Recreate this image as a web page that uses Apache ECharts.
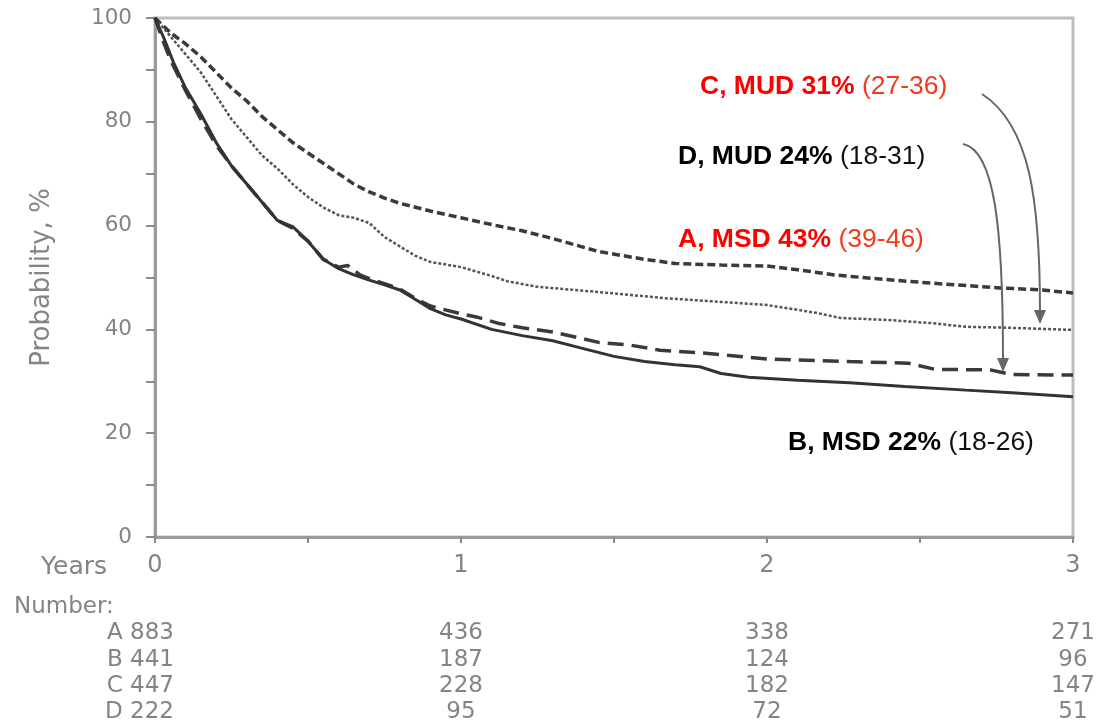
<!DOCTYPE html>
<html>
<head>
<meta charset="utf-8">
<script src="https://cdn.jsdelivr.net/npm/echarts@6/dist/echarts.min.js"></script>
<style>
  html, body { margin: 0; background: #fff; }
  #chart { width: 1097px; height: 725px; }
</style>
</head>
<body>
<div id="chart"></div>
<script>
// survival curves, [years, probability %]
const curveA = [[0,100],[0.05,97.2],[0.1,95],[0.15,92.5],[0.2,89.5],[0.25,86.5],[0.3,84],[0.35,81],[0.4,78.5],[0.45,76],[0.5,74],[0.55,72],[0.6,70],[0.65,68],[0.7,66.5],[0.75,65.3],[0.8,64.3],[0.9,62.8],[1.0,61.5],[1.1,60.2],[1.2,59],[1.3,57.5],[1.45,55],[1.6,53.5],[1.7,52.7],[1.85,52.4],[2.0,52.2],[2.1,51.5],[2.22,50.5],[2.35,49.8],[2.54,48.9],[2.76,48],[2.9,47.6],[3.0,47]]
const curveC = [[0,100],[0.05,96.5],[0.1,93],[0.15,89.5],[0.2,85],[0.25,80.5],[0.3,77],[0.35,73.5],[0.4,71],[0.45,68],[0.5,65.5],[0.55,63.5],[0.6,62],[0.65,61.5],[0.7,60.5],[0.75,57.8],[0.8,56],[0.85,54.2],[0.9,53],[1.0,52],[1.1,50.3],[1.15,49.3],[1.25,48.2],[1.45,47.2],[1.67,46],[1.85,45.3],[2.0,44.7],[2.16,43.2],[2.24,42.2],[2.4,41.8],[2.54,41.2],[2.65,40.5],[2.8,40.3],[3.0,39.9]]
const curveB = [[0,100],[0.03,96],[0.06,91.5],[0.1,86.5],[0.15,81.5],[0.2,76],[0.25,71.5],[0.3,68],[0.35,64.5],[0.4,61],[0.45,59.8],[0.5,57],[0.55,53.5],[0.6,51.7],[0.65,50.5],[0.7,49.5],[0.75,48.6],[0.8,47.6],[0.85,45.8],[0.9,44],[0.95,42.8],[1.0,42],[1.1,40],[1.2,38.8],[1.3,37.8],[1.4,36.3],[1.5,34.8],[1.6,33.8],[1.7,33.2],[1.78,32.8],[1.85,31.5],[1.94,30.8],[2.1,30.2],[2.27,29.7],[2.45,29],[2.65,28.3],[2.8,27.8],[3.0,27]]
const curveD = [[0,100],[0.03,95],[0.05,92],[0.1,86],[0.15,80.5],[0.2,75.5],[0.25,71.5],[0.3,68],[0.35,64.5],[0.4,61],[0.45,59.5],[0.5,57],[0.55,53.5],[0.6,52],[0.63,52.3],[0.67,50.5],[0.7,49.8],[0.8,47.8],[0.85,46],[0.9,44.5],[1.0,43],[1.05,42.4],[1.12,41.2],[1.2,40.3],[1.3,39.5],[1.45,37.5],[1.55,37],[1.65,36],[1.78,35.5],[2.0,34.3],[2.27,33.8],[2.46,33.5],[2.55,32.3],[2.73,32.2],[2.8,31.3],[3.0,31.2]]

// number at risk
const riskTimes = [0, 1, 2, 3]
const riskGroups = ['A', 'B', 'C', 'D']
const riskA = [883, 436, 338, 271]
const riskB = [441, 187, 124, 96]
const riskC = [447, 228, 182, 147]
const riskD = [222, 95, 72, 51]

const yTicks = [0, 20, 40, 60, 80, 100]
const xTicks = [0, 1, 2, 3]

const grey = '#848484'
const tickFont = 'DejaVu Sans'

const chart = echarts.init(document.getElementById('chart'))

const lineSeries = (data, width, type, color) => ({
  type: 'line',
  data: data,
  showSymbol: false,
  silent: true,
  lineStyle: { color: color, width: width, type: type },
})

let option = {
  animation: false,
  grid: {
    left: 155, top: 18, right: 24, bottom: 188,
    show: true, borderColor: '#bdbdbd', borderWidth: 3, backgroundColor: '#fff'
  },
  xAxis: {
    type: 'value', min: 0, max: 3, interval: 0.5,
    axisLine: { lineStyle: { color: '#9a9a9a', width: 3 } },
    axisTick: { length: 6, lineStyle: { color: '#8a8a8a', width: 2 } },
    axisLabel: {
      margin: 17, color: grey, fontSize: 24, fontFamily: tickFont,
      formatter: v => xTicks.includes(v) ? String(v) : ''
    },
    splitLine: { show: false }
  },
  yAxis: {
    type: 'value', min: 0, max: 100, interval: 10,
    name: 'Probability, %', nameLocation: 'middle', nameRotate: 90, nameGap: 100,
    nameTextStyle: { color: grey, fontSize: 26, fontFamily: tickFont },
    axisLine: { show: true, lineStyle: { color: '#9a9a9a', width: 3 } },
    axisTick: { length: 9, lineStyle: { color: '#8a8a8a', width: 2 } },
    axisLabel: {
      margin: 23, color: grey, fontSize: 21.5, fontFamily: tickFont,
      formatter: v => yTicks.includes(v) ? String(v) : ''
    },
    splitLine: { show: false }
  },
  series: [
    lineSeries(curveA, 3.5, [8, 4], '#3a3a3a'),
    lineSeries(curveC, 2.5, [3, 2], '#555'),
    lineSeries(curveD, 3.5, [16, 8], '#3a3a3a'),
    lineSeries(curveB, 3, 'solid', '#333'),
  ]
}

chart.setOption(option)

// labels and arrows
const labelFont = 'Liberation Sans'
const richStyles = (main, ci) => ({
  b: { fill: main, fontWeight: 'bold', fontSize: 26.5, fontFamily: labelFont },
  n: { fill: ci, fontSize: 26.5, fontFamily: labelFont }
})

const labels = [
  { text: '{b|C, MUD 31% }{n|(27-36)}', x: 700, y: 87, main: '#ff0000', ci: '#f23a1c' },
  { text: '{b|D, MUD 24% }{n|(18-31)}', x: 678, y: 157, main: '#000', ci: '#111' },
  { text: '{b|A, MSD 43% }{n|(39-46)}', x: 678, y: 240, main: '#ff0000', ci: '#f23a1c' },
  { text: '{b|B, MSD 22% }{n|(18-26)}', x: 788, y: 443, main: '#000', ci: '#111' },
]

let graphic = labels.map(l => ({
  type: 'text', x: l.x, y: l.y, z: 100,
  style: { text: l.text, verticalAlign: 'middle', align: 'left', rich: richStyles(l.main, l.ci) }
}))

const arrows = [
  { from: [982, 94], c1: [1030, 125], c2: [1040, 200], to: [1040, 312] },
  { from: [963, 144], c1: [995, 150], c2: [1003, 230], to: [1003, 360] },
]
arrows.forEach(a => {
  graphic.push({
    type: 'bezierCurve', z: 90,
    shape: { x1: a.from[0], y1: a.from[1], cpx1: a.c1[0], cpy1: a.c1[1], cpx2: a.c2[0], cpy2: a.c2[1], x2: a.to[0], y2: a.to[1] },
    style: { stroke: '#666', lineWidth: 2, fill: null }
  })
  graphic.push({
    type: 'polygon', z: 90,
    shape: { points: [[a.to[0] - 6, a.to[1] - 2], [a.to[0] + 6, a.to[1] - 2], [a.to[0], a.to[1] + 12]] },
    style: { fill: '#666' }
  })
})

// number-at-risk table below the axis
const tableFont = { fontSize: 23, fontFamily: tickFont, fill: grey }
graphic.push({ type: 'text', x: 107, y: 567, style: Object.assign({ text: 'Years', align: 'right', verticalAlign: 'middle' }, tableFont, { fontSize: 25 }) })
graphic.push({ type: 'text', x: 14, y: 607, style: Object.assign({ text: 'Number:', align: 'left', verticalAlign: 'middle' }, tableFont) })

const riskRows = [riskA, riskB, riskC, riskD]
const rowY = [633, 660, 686, 712]
riskRows.forEach((row, i) => {
  graphic.push({
    type: 'text', x: 174, y: rowY[i],
    style: Object.assign({ text: riskGroups[i] + ' ' + row[0], align: 'right', verticalAlign: 'middle' }, tableFont)
  })
  for (let k = 1; k < riskTimes.length; k++) {
    const px = chart.convertToPixel({ xAxisIndex: 0 }, riskTimes[k])
    graphic.push({
      type: 'text', x: px, y: rowY[i],
      style: Object.assign({ text: String(row[k]), align: 'center', verticalAlign: 'middle' }, tableFont)
    })
  }
})

chart.setOption({ graphic: graphic })
</script>
</body>
</html>
